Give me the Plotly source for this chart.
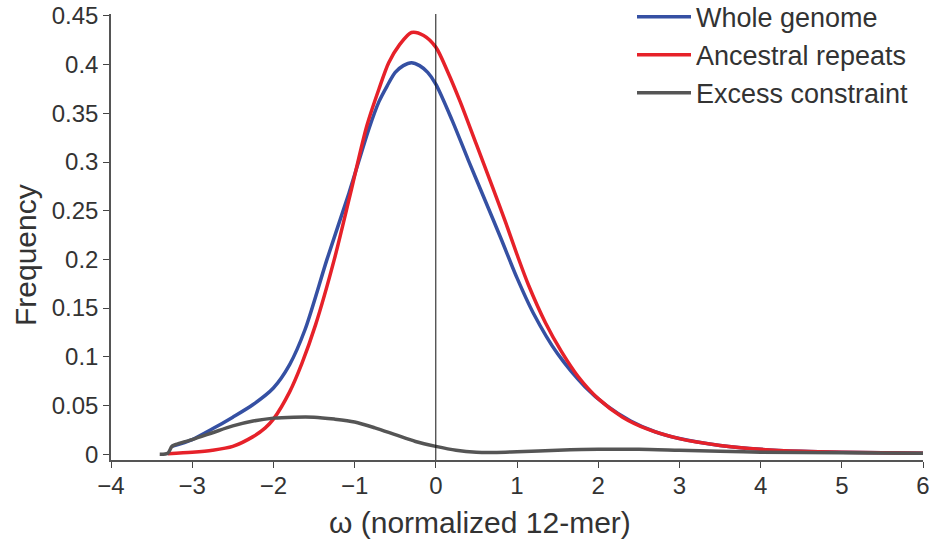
import plotly.graph_objects as go

# ---- data ----
whole_x = [-3.25, -3.0, -2.75, -2.5, -2.25, -2.0, -1.8, -1.61, -1.34, -1.07, -0.82, -0.7, -0.6,
           -0.5, -0.4, -0.3, -0.2, -0.1, 0.0, 0.2, 0.4, 0.6, 0.8, 1.0, 1.2, 1.5, 1.84, 2.1, 2.4, 2.7,
           3.0, 3.5, 4.0, 4.5, 5.0, 5.5, 6.0]
whole_y = [0.008, 0.015, 0.026, 0.038, 0.051, 0.068, 0.092, 0.128, 0.200, 0.268, 0.335, 0.362, 0.378,
           0.392, 0.399, 0.402, 0.399, 0.392, 0.380, 0.343, 0.302, 0.262, 0.222, 0.181, 0.145, 0.103, 0.069, 0.050, 0.034, 0.023,
           0.016, 0.009, 0.005, 0.003, 0.002, 0.0015, 0.001]

anc_x = [-3.3, -3.0, -2.75, -2.5, -2.25, -2.1, -2.0, -1.8, -1.65, -1.48, -1.25, -1.05, -0.85, -0.7,
         -0.58, -0.45, -0.3, -0.15, 0.0, 0.15, 0.3, 0.5, 0.7, 0.86, 1.0, 1.14, 1.35, 1.55, 1.75, 2.0, 2.3, 2.6,
         3.0, 3.5, 4.0, 4.5, 5.0, 5.5, 6.0]
anc_y = [0.0005, 0.002, 0.004, 0.008, 0.018, 0.027, 0.036, 0.064, 0.093, 0.133, 0.200, 0.268, 0.337, 0.375,
         0.402, 0.420, 0.433, 0.430, 0.418, 0.392, 0.362, 0.318, 0.274, 0.238, 0.205, 0.174, 0.135, 0.105, 0.080, 0.057, 0.038, 0.026,
         0.016, 0.009, 0.005, 0.003, 0.002, 0.0015, 0.001]

exc_x = [-3.4, -3.3, -3.25, -3.2, -3.0, -2.75, -2.5, -2.25, -2.0, -1.75, -1.5, -1.25, -1.0, -0.75,
         -0.5, -0.25, 0.0, 0.25, 0.5, 0.75, 1.0, 1.5, 2.0, 2.5, 3.0, 3.5, 4.0, 5.0, 6.0]
exc_y = [0.0, 0.001, 0.008, 0.010, 0.015, 0.022, 0.029, 0.034, 0.037, 0.038, 0.038, 0.036, 0.033, 0.027,
         0.020, 0.013, 0.008, 0.004, 0.002, 0.0018, 0.0025, 0.004, 0.005, 0.005, 0.004, 0.003, 0.002, 0.0015, 0.001]

series_names = ["Whole genome", "Ancestral repeats", "Excess constraint"]
series_colors = ["#3550a3", "#e62129", "#555555"]

x_ticks = [-4, -3, -2, -1, 0, 1, 2, 3, 4, 5, 6]
y_ticks = [0, 0.05, 0.1, 0.15, 0.2, 0.25, 0.3, 0.35, 0.4, 0.45]
y_ticktext = ["0", "0.05", "0.1", "0.15", "0.2", "0.25", "0.3", "0.35", "0.4", "0.45"]
x_title = "ω (normalized 12-mer)"
y_title = "Frequency"

FONT = "Liberation Sans, Arial, sans-serif"
TXT = "#333333"

W, H = 930, 542
ML, MR, MT, MB = 111, 7, 14, 82
PW, PH = W - ML - MR, H - MT - MB


def px_to_paper_x(px):
    return (px - ML) / PW


def py_to_paper_y(py):
    return 1 - (py - MT) / PH


fig = go.Figure()
for xs, ys, name, col in zip([whole_x, anc_x, exc_x], [whole_y, anc_y, exc_y], series_names, series_colors):
    fig.add_trace(go.Scatter(x=xs, y=ys, mode="lines", name=name,
                             line=dict(color=col, width=3.5, shape="spline", smoothing=0.8)))

# vertical reference line at 0
fig.add_shape(type="line", x0=0, x1=0, xref="x", y0=0, y1=1, yref="y domain",
              line=dict(color="#111111", width=1))

# axis titles as annotations (positioned like the reference)
fig.add_annotation(text=y_title, textangle=-90, showarrow=False,
                   xref="paper", yref="paper", x=px_to_paper_x(25), y=py_to_paper_y(255),
                   xanchor="center", yanchor="middle", font=dict(size=30, color=TXT))
fig.add_annotation(text=x_title, showarrow=False,
                   xref="paper", yref="paper", x=px_to_paper_x(480), y=py_to_paper_y(522),
                   xanchor="center", yanchor="middle", font=dict(size=30, color=TXT))

fig.update_layout(
    width=W, height=H,
    margin=dict(l=ML, r=MR, t=MT, b=MB, autoexpand=False),
    paper_bgcolor="white", plot_bgcolor="white",
    font=dict(family=FONT, color=TXT),
    showlegend=True,
    legend=dict(x=px_to_paper_x(632), xanchor="left", y=1.048, yanchor="top",
                font=dict(size=27, color=TXT), bgcolor="rgba(0,0,0,0)",
                itemwidth=54, tracegroupgap=0),
    xaxis=dict(range=[-4, 6], tickvals=x_ticks, showgrid=False, zeroline=False, automargin=False,
               showline=True, linecolor="#555555", linewidth=1.5,
               ticks="outside", ticklen=6, tickcolor="#444444", tickwidth=1,
               tickfont=dict(size=24, color=TXT), ticklabelstandoff=-3, ticklabeloverflow="allow"),
    yaxis=dict(range=[-0.006, 0.452], tickvals=y_ticks, ticktext=y_ticktext, showgrid=False, zeroline=False,
               automargin=False,
               showline=True, linecolor="#555555", linewidth=1.5,
               ticks="outside", ticklen=6, tickcolor="#444444", tickwidth=1,
               tickfont=dict(size=24, color=TXT), ticklabelstandoff=0, ticklabeloverflow="allow"),
)

# remove the page's default body margin so the 930x542 figure fills the window exactly
fig.write_html("out.html",
               config={"displayModeBar": False},
               post_script="document.body.style.margin='0px';document.body.style.overflow='hidden';")
